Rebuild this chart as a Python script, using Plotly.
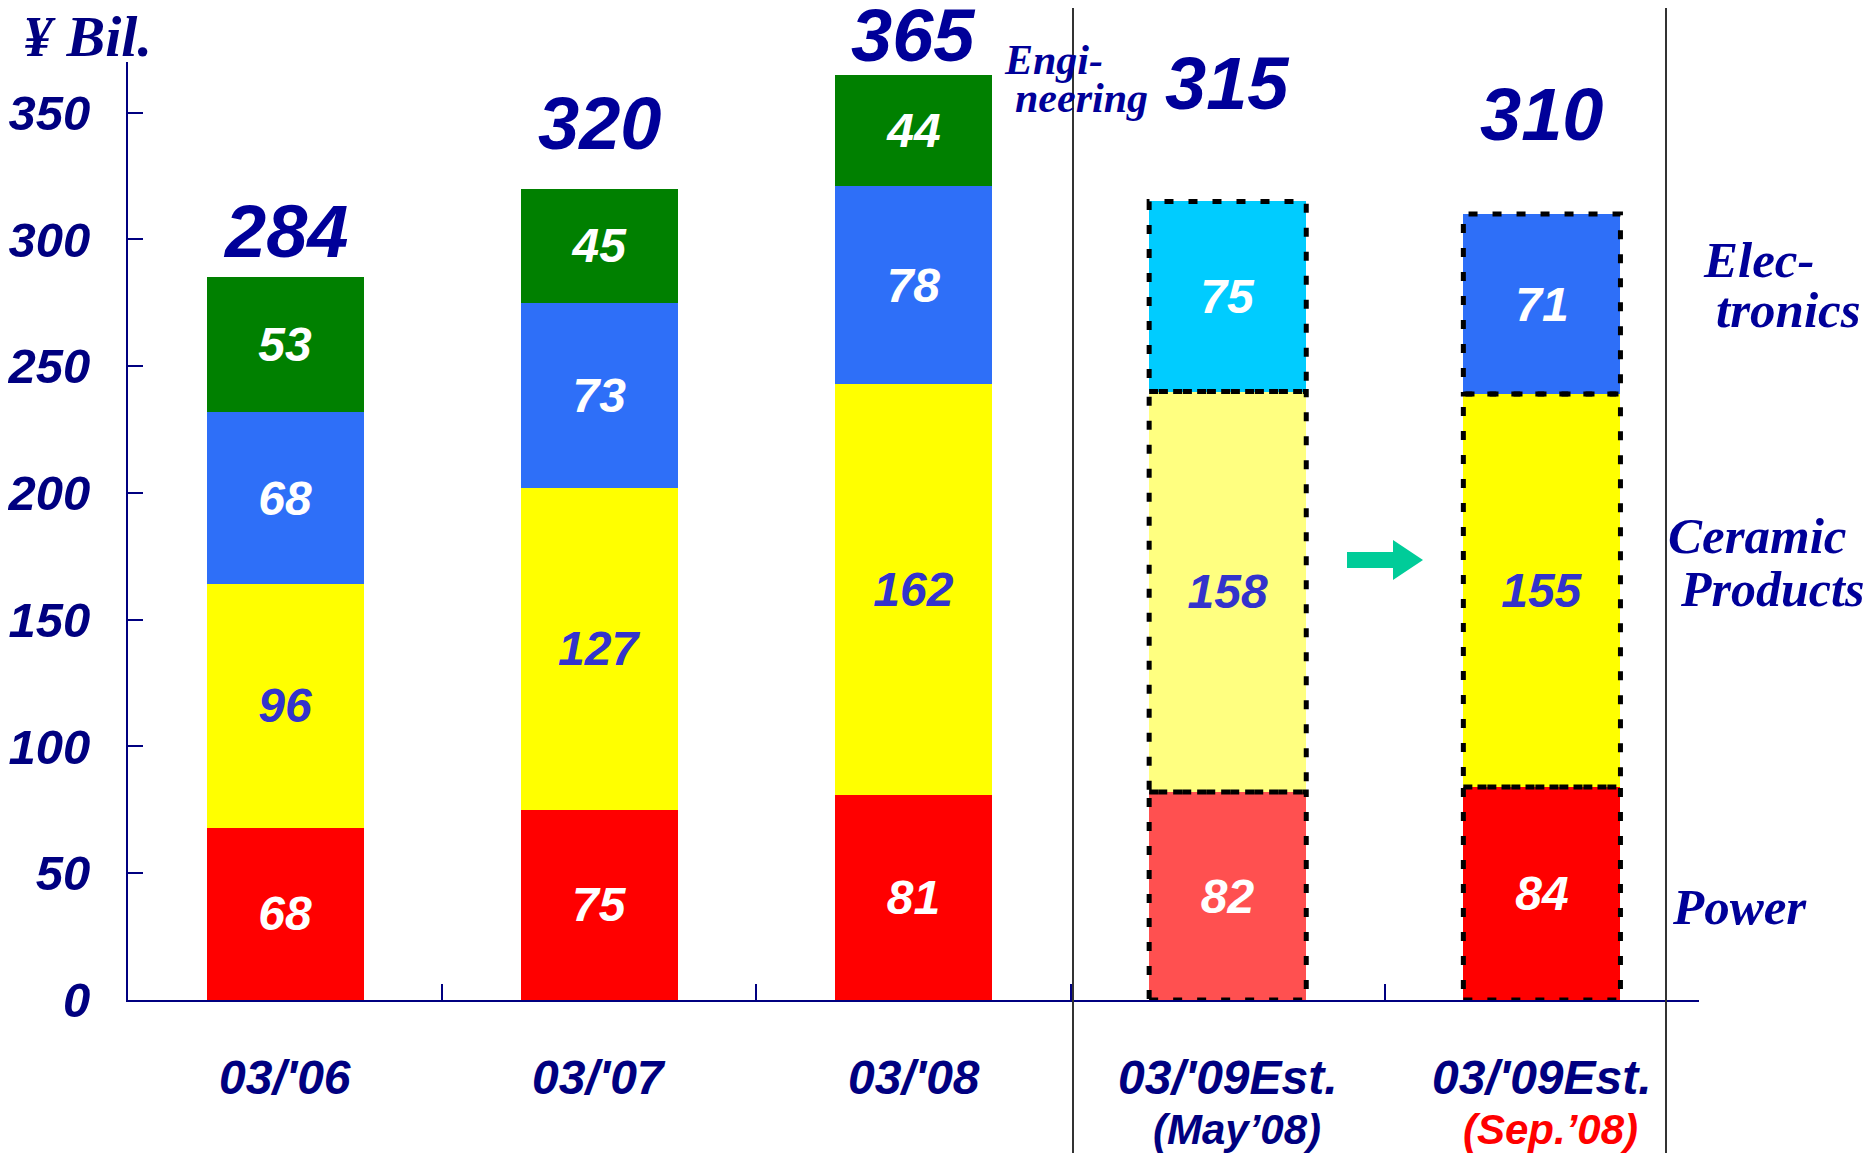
import plotly.graph_objects as go

# ---------------- data ----------------
categories = ["03/'06", "03/'07", "03/'08", "03/'09Est. (May'08)", "03/'09Est. (Sep.'08)"]
cat_line1 = ["03/'06", "03/'07", "03/'08", "03/'09Est.", "03/'09Est."]
cat_line2 = ["", "", "", "(May\u201908)", "(Sep.\u201908)"]
power = [68, 75, 81, 82, 84]
ceramic = [96, 127, 162, 158, 155]
electronics = [68, 73, 78, 75, 71]
engineering = [53, 45, 44, None, None]
totals = [284, 320, 365, 315, 310]
y_tick_vals = [0, 50, 100, 150, 200, 250, 300, 350]

# ---------------- styles ----------------
NAVY = "#000080"
DNAVY = "#000099"
SANS = "Liberation Sans, Arial, sans-serif"
SERIF = "Liberation Serif, Times New Roman, serif"
power_colors = ["#FF0000", "#FF0000", "#FF0000", "#FF5050", "#FF0000"]
ceramic_colors = ["#FFFF00", "#FFFF00", "#FFFF00", "#FFFF80", "#FFFF00"]
elec_colors = ["#2E6FF8", "#2E6FF8", "#2E6FF8", "#00CCFF", "#2E6FF8"]
eng_colors = ["#008000"] * 5
estimate_idx = [3, 4]
total_shift = [49, 65, 39, 118, 100]

OFF = 8  # default page body margin
W_FIG, H_FIG = 1876 - 2 * OFF, 1161 - 2 * OFF
L, R_PX, T, B_PX = 128 - OFF, 1699 - OFF, 62 - OFF, 1000 - OFF
PW, PH = R_PX - L, B_PX - T


def px(x, y):
    """page pixel (reference coords) -> paper coords"""
    x -= OFF
    y -= OFF
    return (x - L) / PW, (B_PX - y) / PH


fig = go.Figure()


def add_series(name, vals, colors, txtcolor):
    fig.add_trace(go.Bar(
        x=categories, y=vals, name=name, width=0.5,
        marker=dict(color=colors, line=dict(width=0)),
        text=[("" if v is None else str(v)) for v in vals],
        textposition="inside", insidetextanchor="middle", textangle=0,
        textfont=dict(family=SANS, size=48, color=txtcolor, weight="bold", style="italic"),
        hoverinfo="skip",
    ))


add_series("Power", power, power_colors, "white")
add_series("Ceramic Products", ceramic, ceramic_colors, "#3333CC")
add_series("Electronics", electronics, elec_colors, "white")
add_series("Engineering", engineering, eng_colors, "white")

shapes = []
# dashed outlines for estimate bars
for i in estimate_idx:
    base = 0
    for series in (power, ceramic, electronics):
        v = series[i]
        shapes.append(dict(type="rect", xref="x", yref="y",
                           x0=i - 0.25, x1=i + 0.25, y0=base, y1=base + v,
                           line=dict(color="black", width=5, dash="9px,15px"),
                           fillcolor="rgba(0,0,0,0)", layer="above"))
        base += v

# vertical separators
for xpix in (1073, 1666):
    x0, _ = px(xpix, 0)
    _, yb = px(0, 1161)
    _, yt = px(0, 0)
    shapes.append(dict(type="line", xref="paper", yref="paper",
                       x0=x0, x1=x0, y0=yb, y1=yt,
                       line=dict(color="#333333", width=2)))

# arrow
pts = [(1347, 552), (1393, 552), (1393, 540), (1423, 560), (1393, 580), (1393, 568), (1347, 568)]
path = "M " + " L ".join(f"{px(a, b)[0]:.5f},{px(a, b)[1]:.5f}" for a, b in pts) + " Z"
shapes.append(dict(type="path", xref="paper", yref="paper", path=path,
                   fillcolor="#00CC99", line=dict(width=0)))

annotations = []
# totals
for i, (c, t) in enumerate(zip(categories, totals)):
    annotations.append(dict(x=c, y=t, xref="x", yref="y", text=str(t), showarrow=False,
                            yanchor="middle", yshift=total_shift[i],
                            font=dict(family=SANS, size=74, color=DNAVY, weight="bold", style="italic")))

# category labels
for i, c in enumerate(categories):
    xp = (i + 0.5) / len(categories)
    annotations.append(dict(x=xp, y=px(0, 1077)[1], xref="paper", yref="paper", text=cat_line1[i],
                            showarrow=False, xanchor="center", yanchor="middle",
                            font=dict(family=SANS, size=48, color=NAVY, weight="bold", style="italic")))
    if cat_line2[i]:
        col = NAVY if i == 3 else "#FF0000"
        annotations.append(dict(x=xp, y=px(0, 1129)[1], xref="paper", yref="paper", text=cat_line2[i],
                                showarrow=False, xanchor="center", yanchor="middle", xshift=9,
                                font=dict(family=SANS, size=42, color=col, weight="bold", style="italic")))

# side labels (serif)
side = [("Engi-", 1053, 60, 42), ("neering", 1081, 98, 42),
        ("Elec-", 1759, 260, 51), ("tronics", 1788, 310, 51),
        ("Ceramic", 1757, 536, 51), ("Products", 1772, 589, 50),
        ("Power", 1739, 907, 51)]
for txt, xx, yy, sz in side:
    xp, yp = px(xx, yy)
    annotations.append(dict(x=xp, y=yp, xref="paper", yref="paper", text=txt, showarrow=False,
                            xanchor="center", yanchor="middle",
                            font=dict(family=SERIF, size=sz, color=DNAVY, weight="bold", style="italic")))

# unit label
xp, yp = px(87, 36)
annotations.append(dict(x=xp, y=yp, xref="paper", yref="paper", text="\u00a5 Bil.", showarrow=False,
                        xanchor="center", yanchor="middle",
                        font=dict(family=SERIF, size=58, color=NAVY, weight="bold", style="italic")))

fig.update_layout(
    barmode="stack",
    width=W_FIG, height=H_FIG,
    margin=dict(l=L, r=W_FIG - R_PX, t=T, b=H_FIG - B_PX, pad=0, autoexpand=False),
    paper_bgcolor="white", plot_bgcolor="white",
    showlegend=False,
    shapes=shapes, annotations=annotations,
    xaxis=dict(type="category", range=[-0.5, 4.5], showticklabels=False, automargin=False,
               tickson="boundaries", ticks="inside", ticklen=16, tickwidth=2, tickcolor=NAVY,
               showline=True, linecolor=NAVY, linewidth=2, showgrid=False, zeroline=False,
               fixedrange=True),
    yaxis=dict(range=[0, 370], tickvals=y_tick_vals, ticks="inside", ticklen=15, tickwidth=2,
               tickcolor=NAVY, showline=True, linecolor=NAVY, linewidth=2, automargin=False,
               showgrid=False, zeroline=False, ticklabelstandoff=26,
               tickfont=dict(family=SANS, size=49, color=NAVY, weight="bold", style="italic")),
)

fig.write_html("out.html")
